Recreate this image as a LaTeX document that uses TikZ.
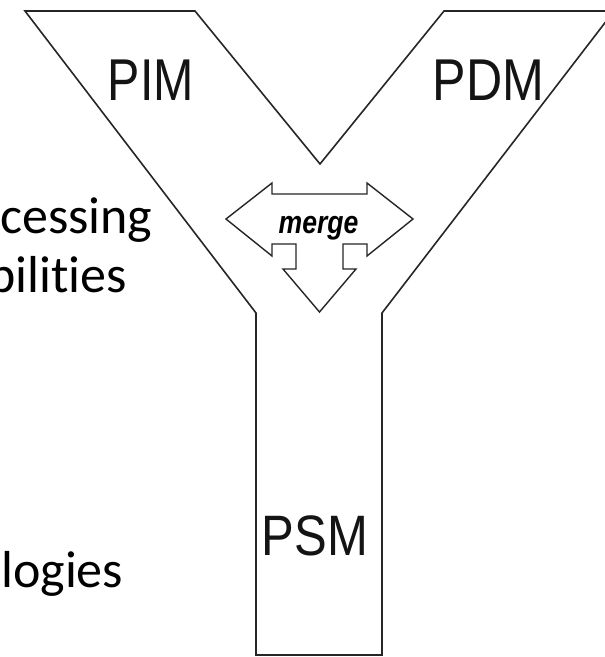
\documentclass[tikz,border=0pt]{standalone}
\usepackage{fontspec}
\setmainfont{Carlito}[Ligatures={NoCommon}]
\newfontfamily\arialf{Liberation Sans}
\begin{document}
\begin{tikzpicture}[x=1pt,y=-1pt,
  outline/.style={draw=black!85, line width=1.6pt, line join=miter},
  ylabel/.style={inner sep=0pt, anchor=base, text=black!92, font=\arialf\fontsize{59}{59}\selectfont},
  side/.style={inner sep=0pt, text=black, font=\fontsize{52}{52}\selectfont}]
\useasboundingbox (0,0) rectangle (605,657);
\clip (0,0) rectangle (605,657);
\fill[white] (0,0) rectangle (605,657);
% Y shape
\draw[outline] (25,11) -- (195,11) -- (320,164) -- (444,11) -- (614,11) -- (382,313)
  -- (382,655) -- (256,655) -- (256,313) -- cycle;
% merge arrow
\draw[outline, line width=1.4pt] (226,219) -- (272,183) -- (272,194) -- (367,194) -- (367,183)
  -- (413,219) -- (367,256) -- (367,244) -- (343,244) -- (343,269) -- (356,269)
  -- (319.5,312) -- (283,269) -- (296,269) -- (296,244) -- (272,244) -- (272,256) -- cycle;
% labels
\node[ylabel] (pim) at (151,100) {\scalebox{0.82}[1]{PIM}};
\node[ylabel] (pdm) at (488.5,100) {\scalebox{0.85}[1]{PDM}};
\node[ylabel, font=\arialf\fontsize{57}{57}\selectfont] (psm) at (315,555) {\scalebox{0.86}[1]{PSM}};
\node[inner sep=0pt, anchor=base, text=black, font=\arialf\bfseries\itshape\fontsize{32}{32}\selectfont] (merge) at (318.5,233) {\scalebox{0.83}[1]{merge}};
% side text
\node[side, anchor=base west] (t1) at (0,233) {cessing};
\node[side, anchor=base east] (t2) at (127,292) {bilities};
\node[side, anchor=base west] (t3) at (1,587) {logies};
\end{tikzpicture}
\end{document}
